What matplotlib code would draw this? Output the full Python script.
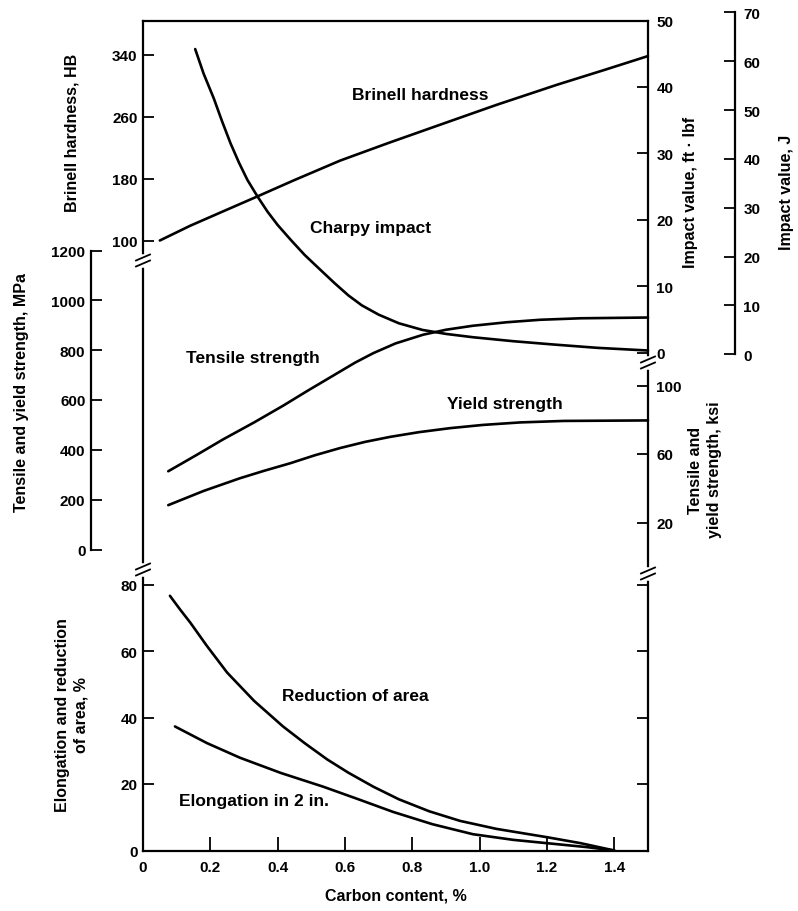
#!/usr/bin/env python3

import matplotlib.pyplot as plt
from matplotlib.lines import Line2D

plt.rcParams['font.family'] = ['Liberation Sans', 'DejaVu Sans']
plt.rcParams['font.weight'] = 'bold'

# carbon content, %
carbon_ticks = [0, 0.2, 0.4, 0.6, 0.8, 1.0, 1.2, 1.4]

# Brinell hardness, HB
brinell_c = [0.05, 0.14, 0.24, 0.33, 0.45, 0.585, 0.73, 0.88, 1.05, 1.23, 1.37, 1.5]
brinell_hb = [100, 119, 138, 155, 178, 203, 226, 249, 275, 301, 320, 338]

# Charpy impact, ft-lbf
charpy_c = [0.155, 0.18, 0.21, 0.235, 0.26, 0.285, 0.31, 0.34, 0.37, 0.40, 0.44, 0.48,
            0.53, 0.57, 0.61, 0.65, 0.70, 0.76, 0.83, 0.90, 0.98, 1.1, 1.22, 1.35, 1.5]
charpy_ftlbf = [45.7, 42.0, 38.3, 34.8, 31.5, 28.6, 26.0, 23.5, 21.2, 19.2, 16.9, 14.7,
                12.3, 10.4, 8.6, 7.1, 5.7, 4.4, 3.4, 2.8, 2.3, 1.7, 1.2, 0.7, 0.3]

# tensile and yield strength, MPa
tensile_c = [0.075, 0.16, 0.238, 0.33, 0.416, 0.49, 0.565, 0.63, 0.684, 0.75, 0.832,
             0.90, 0.98, 1.08, 1.18, 1.3, 1.5]
tensile_mpa = [314, 380, 442, 510, 577, 638, 698, 750, 788, 827, 862,
               882, 898, 912, 922, 928, 931]
yield_c = [0.075, 0.18, 0.288, 0.36, 0.437, 0.51, 0.585, 0.66, 0.734, 0.82, 0.912,
           1.01, 1.12, 1.25, 1.5]
yield_mpa = [178, 235, 286, 316, 346, 378, 407, 432, 452, 471, 487,
             500, 510, 516, 518]

# reduction of area and elongation, %
reduction_c = [0.08, 0.11, 0.14, 0.19, 0.25, 0.33, 0.416, 0.48, 0.547, 0.61, 0.684,
               0.76, 0.85, 0.942, 1.05, 1.2, 1.3, 1.4]
reduction_pct = [76.6, 72.5, 68.6, 61.5, 53.5, 45.0, 37.3, 32.3, 27.4, 23.4, 19.2,
                 15.4, 11.8, 8.9, 6.5, 4.0, 2.2, 0]
elong_c = [0.095, 0.19, 0.288, 0.41, 0.535, 0.64, 0.743, 0.86, 0.98, 1.1, 1.23, 1.32, 1.4]
elong_pct = [37.3, 32.3, 27.9, 23.3, 19.2, 15.4, 11.6, 7.9, 4.9, 3.2, 1.9, 1.0, 0]

brinell_ticks = [100, 180, 260, 340]
ftlbf_ticks = [0, 10, 20, 30, 40, 50]
joule_ticks = [0, 10, 20, 30, 40, 50, 60, 70]
mpa_ticks = [0, 200, 400, 600, 800, 1000, 1200]
ksi_ticks = [20, 60, 100]
pct_ticks = [0, 20, 40, 60, 80]

W, H = 798, 912
fig = plt.figure(figsize=(W / 100, H / 100), dpi=100)

X0, X1 = 143, 648
TOP, BOT = 21.5, 851.5


def fx(px):
    return px / W


def fy(py):
    return 1 - py / H


def overlay(top, bot, cal):
    (va, pa), (vb, pb) = cal
    k = (vb - va) / (pb - pa)
    ax = fig.add_axes([fx(X0), fy(bot), fx(X1) - fx(X0), (bot - top) / H])
    ax.set_xlim(0, 1.5)
    ax.set_ylim(va + (bot - pa) * k, va + (top - pa) * k)
    ax.patch.set_visible(False)
    for s in ax.spines.values():
        s.set_visible(False)
    ax.tick_params(axis='x', bottom=False, labelbottom=False)
    ax.tick_params(axis='y', left=False, labelleft=False, right=False, labelright=False,
                   direction='in', length=8, width=1.3, pad=4, labelsize=11)
    return ax


# main frame
frame = fig.add_axes([fx(X0), fy(BOT), fx(X1) - fx(X0), (BOT - TOP) / H])
frame.set_xlim(0, 1.5)
frame.set_ylim(0, 1)
frame.set_yticks([])
frame.set_xticks(carbon_ticks)
frame.set_xticklabels(['0', '0.2', '0.4', '0.6', '0.8', '1.0', '1.2', '1.4'])
frame.tick_params(axis='x', direction='in', length=10, width=1.3, pad=7, labelsize=11)
for s in frame.spines.values():
    s.set_linewidth(1.6)

line_kw = dict(color='black', lw=1.9, clip_on=False, solid_capstyle='round',
               solid_joinstyle='round')

# Brinell hardness
ax_hb = overlay(TOP, 261.5, ((340, 55.5), (100, 241.5)))
ax_hb.set_yticks(brinell_ticks)
ax_hb.tick_params(axis='y', left=True, labelleft=True)
ax_hb.plot(brinell_c, brinell_hb, **line_kw)

# impact, ft-lbf
ax_ft = overlay(TOP, 363.5, ((50, 21.5), (0, 353.5)))
ax_ft.set_yticks(ftlbf_ticks)
ax_ft.tick_params(axis='y', right=True, labelright=True, pad=6)
ax_ft.plot(charpy_c, charpy_ftlbf, **line_kw)

# impact, J (separate spine)
ax_j = overlay(10, 362, ((70, 13.3), (0, 355.3)))
ax_j.spines['right'].set_visible(True)
ax_j.spines['right'].set_position(('axes', (735 - X0) / (X1 - X0)))
ax_j.spines['right'].set_bounds(0, 70)
ax_j.spines['right'].set_linewidth(1.6)
ax_j.set_yticks(joule_ticks)
ax_j.tick_params(axis='y', right=True, labelright=True, pad=6)

# tensile / yield, MPa (separate spine)
ax_mpa = overlay(240, 560, ((1200, 251.5), (0, 550.5)))
ax_mpa.spines['left'].set_visible(True)
ax_mpa.spines['left'].set_position(('axes', (91 - X0) / (X1 - X0)))
ax_mpa.spines['left'].set_bounds(0, 1200)
ax_mpa.spines['left'].set_linewidth(1.6)
ax_mpa.set_yticks(mpa_ticks)
ax_mpa.tick_params(axis='y', left=True, labelleft=True)
ax_mpa.plot(tensile_c, tensile_mpa, **line_kw)
ax_mpa.plot(yield_c, yield_mpa, **line_kw)

# tensile / yield, ksi
ax_ksi = overlay(363.5, 574.5, ((100, 386.5), (20, 523.5)))
ax_ksi.set_yticks(ksi_ticks)
ax_ksi.tick_params(axis='y', right=True, labelright=True, pad=6)

# elongation / reduction, %
ax_pct = overlay(570.5, BOT, ((80, 585.5), (0, 851.5)))
ax_pct.set_yticks(pct_ticks)
ax_pct.tick_params(axis='y', left=True, labelleft=True, right=True)
ax_pct.plot(reduction_c, reduction_pct, **line_kw)
ax_pct.plot(elong_c, elong_pct, **line_kw)


# axis break marks
def brk(px, py):
    fig.add_artist(Line2D([fx(px), fx(px)], [fy(py - 4), fy(py + 4)], color='white', lw=4))
    for d in (-3, 3):
        fig.add_artist(Line2D([fx(px - 7), fx(px + 7)], [fy(py + d + 3), fy(py + d - 3)],
                              color='black', lw=1.3))


brk(X0, 261.5)
brk(X0, 570.5)
brk(X1, 363.5)
brk(X1, 574.5)

# curve labels
lbl = dict(ha='center', va='center', fontsize=12.5, fontweight='bold')
fig.text(fx(420), fy(95), 'Brinell hardness', **lbl)
fig.text(fx(371), fy(228), 'Charpy impact', **lbl)
fig.text(fx(253), fy(358), 'Tensile strength', **lbl)
fig.text(fx(505), fy(405), 'Yield strength', **lbl)
fig.text(fx(355), fy(697), 'Reduction of area', **lbl)
fig.text(fx(254), fy(802), 'Elongation in 2 in.', **lbl)

# axis titles
ttl = dict(ha='center', va='center', fontsize=11.5, fontweight='bold')
fig.text(fx(396), fy(896), 'Carbon content, %', **ttl)
fig.text(fx(72), fy(133), 'Brinell hardness, HB', rotation=90, **ttl)
fig.text(fx(22), fy(393), 'Tensile and yield strength, MPa', rotation=90, **ttl)
fig.text(fx(72), fy(715), 'Elongation and reduction\nof area, %', rotation=90,
         linespacing=1.3, **ttl)
fig.text(fx(690), fy(192), 'Impact value, ft · lbf', rotation=90, **ttl)
fig.text(fx(787), fy(192), 'Impact value, J', rotation=90, **ttl)
fig.text(fx(705), fy(470), 'Tensile and\nyield strength, ksi', rotation=90,
         linespacing=1.3, **ttl)

fig.savefig('out.png', dpi=100)
